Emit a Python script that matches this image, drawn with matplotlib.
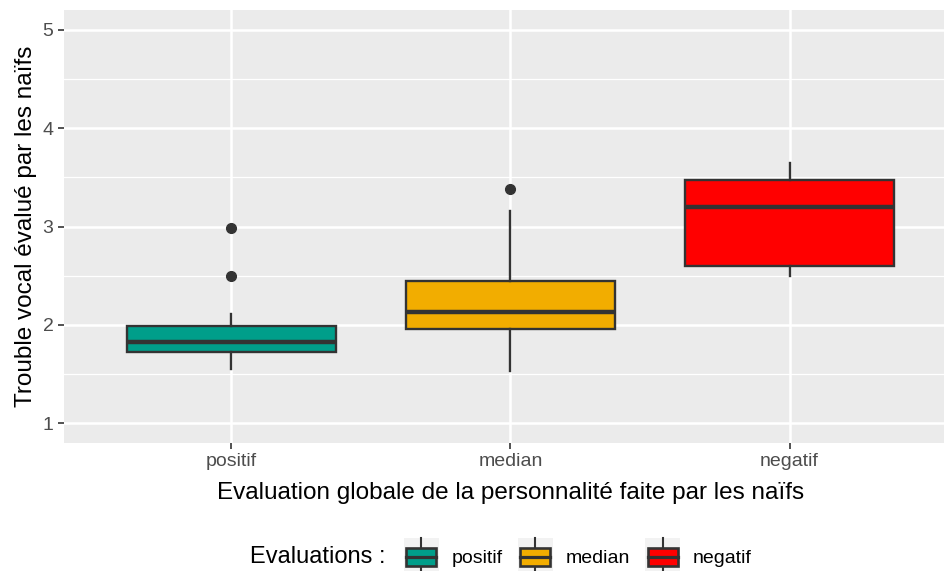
import matplotlib
matplotlib.use("Agg")
import matplotlib.pyplot as plt
from matplotlib.legend_handler import HandlerBase
from matplotlib.patches import Rectangle
from matplotlib.lines import Line2D
from matplotlib.offsetbox import HPacker

plt.rcParams['font.family'] = ['Liberation Sans', 'DejaVu Sans']

categories = ["positif", "median", "negatif"]
colors = ["#009E8A", "#F2AD00", "#FF0000"]
whislo = [1.55, 1.53, 2.50]
q1 = [1.72, 1.955, 2.60]
med = [1.83, 2.135, 3.20]
q3 = [1.985, 2.45, 3.475]
whishi = [2.11, 3.16, 3.65]
fliers = [[2.50, 2.98], [3.38], []]

edge = "#333333"

fig = plt.figure(figsize=(9.45, 5.71), dpi=100)
ax = fig.add_axes([64/945, (571-443)/571, (957-64)/945, (443-10)/571])
ax.set_facecolor("#EBEBEB")

stats = []
for i in range(3):
    stats.append(dict(whislo=whislo[i], q1=q1[i], med=med[i], q3=q3[i],
                      whishi=whishi[i], fliers=fliers[i]))
bp = ax.bxp(stats, positions=[1, 2, 3], widths=0.75, patch_artist=True,
            showcaps=False,
            boxprops=dict(edgecolor=edge, linewidth=1.7),
            medianprops=dict(color=edge, linewidth=3.2, solid_capstyle='butt'),
            whiskerprops=dict(color=edge, linewidth=1.7),
            flierprops=dict(marker='o', markerfacecolor=edge, markeredgecolor=edge,
                            markersize=7, linestyle='none'),
            zorder=3)
for patch, c in zip(bp['boxes'], colors):
    patch.set_facecolor(c)

ax.set_xlim(0.4, 3.6)
ax.set_ylim(0.8, 5.2)
ax.set_xticks([1, 2, 3])
ax.set_xticklabels(categories)
ax.set_yticks([1, 2, 3, 4, 5])
ax.set_yticks([1.5, 2.5, 3.5, 4.5], minor=True)
ax.grid(which='major', color='white', linewidth=1.8, zorder=0)
ax.grid(which='minor', axis='y', color='white', linewidth=0.9, zorder=0)
ax.set_axisbelow(True)
for s in ax.spines.values():
    s.set_visible(False)
ax.tick_params(which='major', length=4.5, width=1.2, color='#333333',
               labelcolor='#4D4D4D', labelsize=14, pad=3)
ax.tick_params(which='minor', length=0)

ax.set_xlabel("Evaluation globale de la personnalité faite par les naïfs",
              fontsize=17.5, color='black', labelpad=8)
ax.set_ylabel("Trouble vocal évalué par les naïfs", fontsize=17.5,
              color='black', labelpad=4)


class BoxHandler(HandlerBase):
    def __init__(self, color):
        super().__init__()
        self.color = color

    def create_artists(self, legend, orig_handle, xdescent, ydescent,
                       width, height, fontsize, trans):
        arts = []
        ext = 6
        bg = Rectangle((-xdescent, -ydescent - ext), width, height + 2 * ext,
                       facecolor='#F2F2F2', edgecolor='none', transform=trans)
        arts.append(bg)
        cx = -xdescent + width / 2
        bw = width * 0.86
        bh = height * 0.78
        y0 = -ydescent + (height - bh) / 2
        arts.append(Line2D([cx, cx], [-ydescent - ext, y0], color=edge, lw=1.5,
                           transform=trans))
        arts.append(Line2D([cx, cx], [y0 + bh, -ydescent + height + ext], color=edge,
                           lw=1.5, transform=trans))
        arts.append(Rectangle((cx - bw / 2, y0), bw, bh, facecolor=self.color,
                              edgecolor=edge, lw=1.9, transform=trans))
        arts.append(Line2D([cx - bw / 2, cx + bw / 2], [y0 + bh / 2, y0 + bh / 2],
                           color=edge, lw=2.3, transform=trans))
        return arts


handles = [Rectangle((0, 0), 1, 1) for _ in categories]
handler_map = {h: BoxHandler(c) for h, c in zip(handles, colors)}
leg = fig.legend(handles, categories, handler_map=handler_map,
                 loc='center', bbox_to_anchor=(501/945, 1 - 557/571), ncol=3,
                 frameon=False, fontsize=14, handlelength=1.8, handleheight=1.35,
                 handletextpad=0.65, columnspacing=0.8,
                 title="Evaluations :", title_fontsize=17)
box = leg._legend_box
children = box.get_children()
title_box, handle_box = children[0], children[1]
leg._legend_box = HPacker(pad=box.pad, sep=13, align="center",
                          children=[title_box, handle_box])
leg._legend_box.set_figure(fig)
leg._legend_box.set_offset(leg._findoffset)

fig.savefig("out.png", dpi=100, facecolor='white')
